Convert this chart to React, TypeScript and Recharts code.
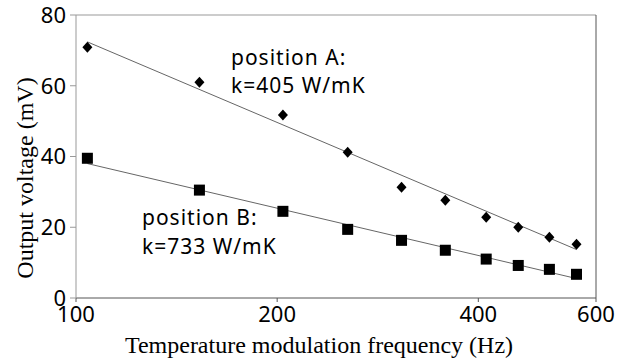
import React from 'react'
import {
  ComposedChart,
  Scatter,
  XAxis,
  YAxis,
  ReferenceLine,
} from 'recharts'

const freqs = [104, 153, 204, 255, 307, 357, 411, 459, 511, 561]
const posA = [70.9, 61.0, 51.7, 41.2, 31.3, 27.6, 22.8, 20.0, 17.2, 15.2]
const posB = [39.5, 30.5, 24.5, 19.4, 16.3, 13.5, 11.0, 9.2, 8.1, 6.7]

// trend line end points
const fitFreqs = [104, 561]
const fitA = [72.4, 13.7]
const fitB = [38.0, 5.5]

const xTicks = [100, 200, 400, 600]
const yTicks = [0, 20, 40, 60, 80]

const toPoints = (xs: number[], ys: number[]) =>
  xs.map((f, i) => ({ f, v: ys[i] }))

const dataA = toPoints(freqs, posA)
const dataB = toPoints(freqs, posB)
const lineA = toPoints(fitFreqs, fitA)
const lineB = toPoints(fitFreqs, fitB)

const SANS = '"Noto Sans", "Open Sans", sans-serif'
const SERIF = '"Liberation Serif", "DejaVu Serif", serif'

const Diamond = (props: any) => {
  const { cx, cy } = props
  if (cx == null || cy == null) return <g />
  const w = 5
  const h = 5.5
  return (
    <path
      d={`M${cx},${cy - h}L${cx + w},${cy}L${cx},${cy + h}L${cx - w},${cy}Z`}
      fill='#000'
    />
  )
}

const Square = (props: any) => {
  const { cx, cy } = props
  if (cx == null || cy == null) return <g />
  const s = 5.5
  return (
    <rect x={cx - s} y={cy - s} width={s * 2} height={s * 2} fill='#000' />
  )
}

const NoDot = () => <g />

const tickStyle = { fontFamily: SANS, fontSize: 22, fill: '#000' }

export default function App() {
  return (
    <div style={{ position: 'absolute', left: 0, top: 0, background: '#fff' }}>
      <ComposedChart
        width={637}
        height={361}
        margin={{ top: 15, right: 41, bottom: 0, left: 0 }}
      >
        <XAxis
          type='number'
          dataKey='f'
          scale='log'
          domain={[100, 600]}
          ticks={xTicks}
          allowDataOverflow
          height={63}
          tickSize={4}
          tick={tickStyle}
          tickMargin={4}
          axisLine={{ stroke: '#555' }}
          tickLine={{ stroke: '#555' }}
        />
        <YAxis
          type='number'
          dataKey='v'
          domain={[0, 80]}
          ticks={yTicks}
          width={76}
          tickSize={6}
          tickMargin={4}
          tick={tickStyle}
          axisLine={{ stroke: '#999' }}
          tickLine={{ stroke: '#999' }}
        />
        <ReferenceLine y={80} stroke='#999' ifOverflow='extendDomain' />
        <ReferenceLine x={600} stroke='#555' />
        <Scatter
          data={lineA}
          line={{ stroke: '#666', strokeWidth: 1 }}
          shape={NoDot}
          isAnimationActive={false}
        />
        <Scatter
          data={lineB}
          line={{ stroke: '#666', strokeWidth: 1 }}
          shape={NoDot}
          isAnimationActive={false}
        />
        <Scatter data={dataA} shape={Diamond} isAnimationActive={false} />
        <Scatter data={dataB} shape={Square} isAnimationActive={false} />
        <text
          x={25}
          y={178}
          transform='rotate(-90 25 178)'
          textAnchor='middle'
          dominantBaseline='central'
          fontFamily={SERIF}
          fontSize={24}
          fill='#000'
        >
          Output voltage (mV)
        </text>
        <text
          x={319}
          y={353}
          textAnchor='middle'
          fontFamily={SERIF}
          fontSize={24}
          fill='#000'
        >
          Temperature modulation frequency (Hz)
        </text>
        <text fontFamily={SANS} fontSize={21} letterSpacing={1} fill='#000'>
          <tspan x={231} y={65}>position A:</tspan>
          <tspan x={231} y={93}>k=405 W/mK</tspan>
        </text>
        <text fontFamily={SANS} fontSize={21} letterSpacing={1} fill='#000'>
          <tspan x={142} y={225}>position B:</tspan>
          <tspan x={142} y={254}>k=733 W/mK</tspan>
        </text>
      </ComposedChart>
    </div>
  )
}
